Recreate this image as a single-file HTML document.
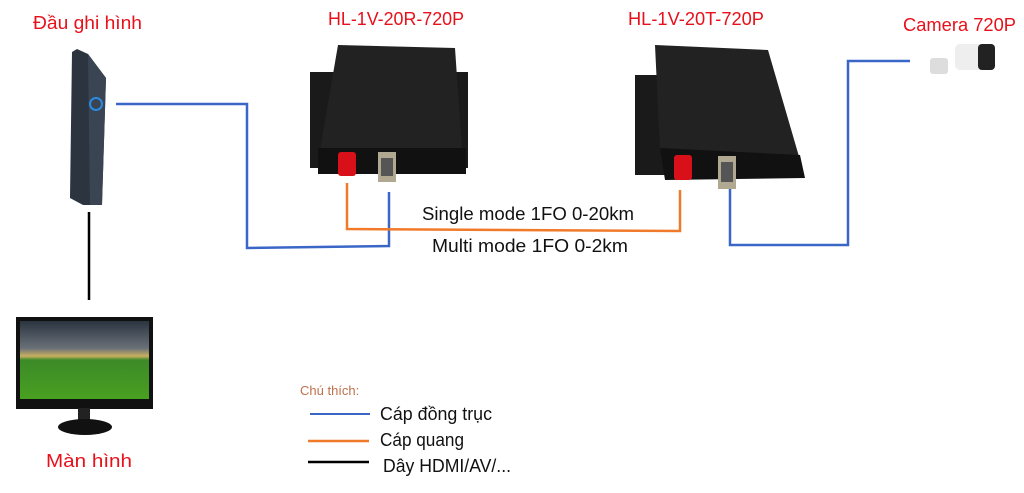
<!DOCTYPE html>
<html><head><meta charset="utf-8"><style>
html,body{margin:0;padding:0;background:#fff;width:1024px;height:493px;overflow:hidden}
svg text{font-family:"Liberation Sans","DejaVu Sans",sans-serif}
</style></head><body>
<svg width="1024" height="493" viewBox="0 0 1024 493" xmlns="http://www.w3.org/2000/svg">
<defs>
<linearGradient id="sky" x1="0" y1="0" x2="0" y2="1">
<stop offset="0" stop-color="#2a3540"/><stop offset="0.35" stop-color="#6a7078"/><stop offset="0.45" stop-color="#c8b060"/><stop offset="0.5" stop-color="#3c8a28"/><stop offset="1" stop-color="#48a020"/>
</linearGradient>
</defs>
<polyline points="116,104 247,104 247,248 389,246 389,192" fill="none" stroke="#3a66c8" stroke-width="2.5"/>
<polyline points="347,183 347,229 680,231 680,190" fill="none" stroke="#f07a2a" stroke-width="2.5"/>
<polyline points="730,185 730,245 848,245 848,61 910,61" fill="none" stroke="#3a66c8" stroke-width="2.5"/>
<line x1="89" y1="212" x2="89" y2="300" stroke="#000" stroke-width="2.5"/>

<polygon points="77,49 88,54 106,78 102,205 83,205 70,198 72,52" fill="#2c3440"/>
<polygon points="88,54 106,78 102,205 90,205" fill="#3a4452"/>
<circle cx="96" cy="104" r="6" fill="none" stroke="#2a8ae0" stroke-width="2"/>

<rect x="310" y="72" width="158" height="96" fill="#1a1a1a"/>
<polygon points="338,45 455,48 462,150 320,150" fill="#222"/>
<rect x="318" y="148" width="148" height="26" fill="#111"/>
<rect x="338" y="152" width="18" height="24" rx="3" fill="#d8101a"/>
<rect x="378" y="152" width="18" height="30" fill="#b0a890"/>
<rect x="381" y="158" width="12" height="18" fill="#555"/>

<rect x="635" y="75" width="30" height="100" fill="#1a1a1a"/>
<polygon points="655,45 768,50 800,160 660,150" fill="#222"/>
<polygon points="660,148 800,155 805,178 665,180" fill="#111"/>
<rect x="674" y="155" width="18" height="25" rx="3" fill="#d8101a"/>
<rect x="718" y="156" width="18" height="33" fill="#b0a890"/>
<rect x="721" y="162" width="12" height="20" fill="#555"/>

<rect x="930" y="58" width="18" height="16" rx="3" fill="#ddd"/>
<rect x="955" y="44" width="40" height="26" rx="5" fill="#eee"/>
<rect x="978" y="44" width="17" height="26" rx="4" fill="#222"/>

<rect x="16" y="317" width="137" height="92" fill="#111"/>
<rect x="20" y="321" width="129" height="78" fill="url(#sky)"/>
<rect x="78" y="408" width="12" height="14" fill="#222"/>
<ellipse cx="85" cy="427" rx="27" ry="8" fill="#111"/>

<g fill="#e8101a" font-size="18.5">
<text x="33" y="29" textLength="109" lengthAdjust="spacingAndGlyphs">Đầu ghi hình</text>
<text x="328" y="25" textLength="136" lengthAdjust="spacingAndGlyphs">HL-1V-20R-720P</text>
<text x="628" y="25" textLength="136" lengthAdjust="spacingAndGlyphs">HL-1V-20T-720P</text>
<text x="903" y="31" textLength="113" lengthAdjust="spacingAndGlyphs">Camera 720P</text>
<text x="46" y="467" textLength="86" lengthAdjust="spacingAndGlyphs">Màn hình</text>
</g>
<g fill="#111" font-size="18">
<text x="422" y="220" textLength="212" lengthAdjust="spacingAndGlyphs">Single mode 1FO 0-20km</text>
<text x="432" y="252" textLength="196" lengthAdjust="spacingAndGlyphs">Multi mode 1FO 0-2km</text>
<text x="380" y="420" textLength="112" lengthAdjust="spacingAndGlyphs">Cáp đồng trục</text>
<text x="380" y="446" textLength="84" lengthAdjust="spacingAndGlyphs">Cáp quang</text>
<text x="383" y="472" textLength="128" lengthAdjust="spacingAndGlyphs">Dây HDMI/AV/...</text>
</g>
<text x="300" y="395" font-size="13" fill="#c0704a">Chú thích:</text>
<line x1="310" y1="414" x2="370" y2="414" stroke="#3a66c8" stroke-width="2"/>
<line x1="308" y1="441" x2="369" y2="441" stroke="#f07a2a" stroke-width="2.5"/>
<line x1="308" y1="462" x2="369" y2="462" stroke="#000" stroke-width="2.5"/>
</svg>
</body></html>
